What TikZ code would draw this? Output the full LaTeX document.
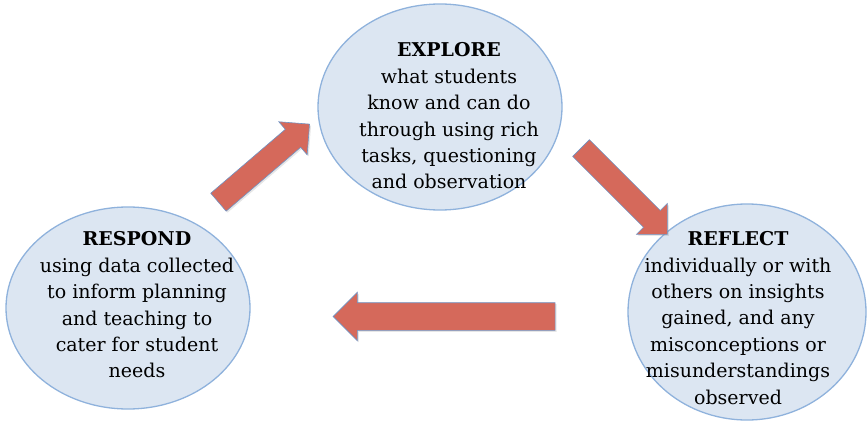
\documentclass[tikz,border=0pt]{standalone}
\usepackage{fontspec}
\setmainfont{DejaVu Serif}
\usepackage{tikz}
\usetikzlibrary{shapes.geometric, shapes.arrows, shadows}
\definecolor{StageFill}{HTML}{DCE6F2}
\definecolor{StageLine}{HTML}{8FB2DC}
\definecolor{CycleRed}{HTML}{D5695B}
\definecolor{CycleEdge}{HTML}{6F93C4}

\begin{document}
\begin{tikzpicture}[x=1pt, y=1pt,
    stage/.style={ellipse, draw=StageLine, line width=1.3pt, fill=StageFill, inner sep=0pt},
    stagetext/.style={align=center, font=\fontsize{19}{26.4}\selectfont, text=black},
    cyclearrow/.style={single arrow, draw=CycleEdge, line width=0.6pt, fill=CycleRed,
        inner xsep=0pt, single arrow head extend=10pt,
        drop shadow={opacity=0.2, shadow xshift=1.5pt, shadow yshift=-1.5pt}}]
    \useasboundingbox (0,0) rectangle (868,424);

    % the three stages of the cycle
    \node[stage, minimum width=244, minimum height=206] (explore) at (440,317) {};
    \node[stage, minimum width=244, minimum height=202] (respond) at (128,116) {};
    \node[stage, minimum width=238, minimum height=216] (reflect) at (747,112) {};

    \node[stagetext] (exploretext) at (449,308) {\textbf{EXPLORE}\\what students\\know and can do\\through using rich\\tasks, questioning\\and observation};
    \node[stagetext] (respondtext) at (137,119) {\textbf{RESPOND}\\using data collected\\to inform planning\\and teaching to\\cater for student\\needs};
    \node[stagetext] (reflecttext) at (738,106) {\textbf{REFLECT}\\individually or with\\others on insights\\gained, and any\\misconceptions or\\misunderstandings\\observed};

    % block arrows between the stages
    \node[cyclearrow, inner ysep=11.5pt, minimum height=120, rotate=40.6] (toexplore) at (259.5,257) {};
    \node[cyclearrow, inner ysep=11.5pt, minimum height=122, rotate=-45] (toreflect) at (620,237) {};
    \node[cyclearrow, inner ysep=13.5pt, minimum height=222, single arrow head extend=10.5pt, rotate=180] (torespond) at (451,107.5) {};
\end{tikzpicture}
\end{document}
